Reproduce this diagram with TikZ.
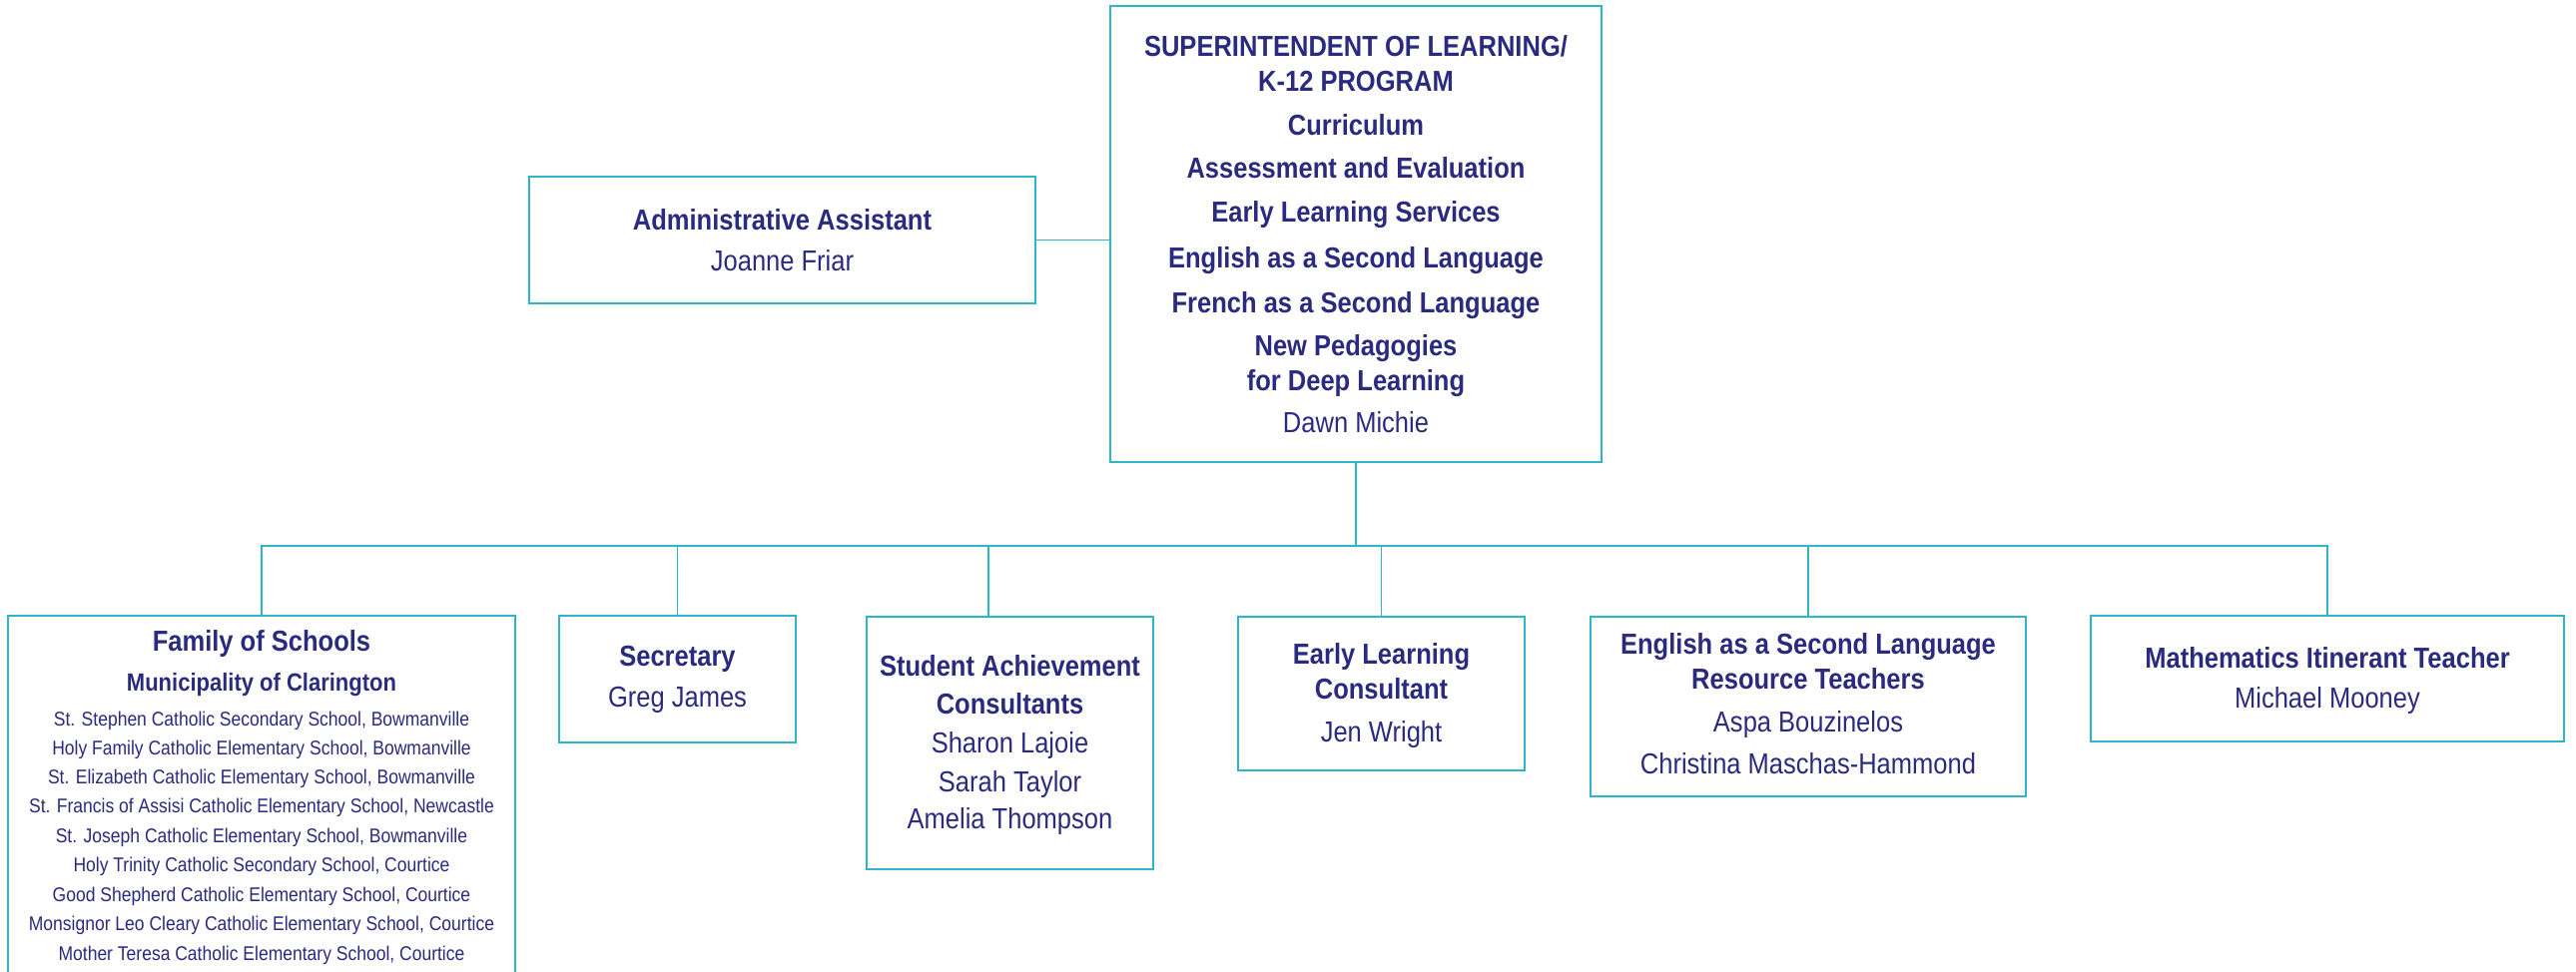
\documentclass[tikz,border=0pt]{standalone}
\usepackage{fontspec}
\setmainfont{Liberation Sans}[FakeStretch=0.88]
\definecolor{txtC}{HTML}{2A2A7E}
\definecolor{lineC}{HTML}{2DB5C8}
\begin{document}
\begin{tikzpicture}[x=1pt,y=-1pt,
  box/.style={draw=lineC, line width=1.6pt, inner sep=0pt},
  hd/.style={text=txtC, font=\bfseries\fontsize{29}{34}\selectfont, anchor=base, inner sep=0pt},
  nm/.style={text=txtC, font=\fontsize{29}{34}\selectfont, anchor=base, inner sep=0pt},
  subhd/.style={text=txtC, font=\bfseries\fontsize{25}{30}\selectfont, anchor=base, inner sep=0pt},
  sch/.style={text=txtC, font=\fontsize{19.9}{24}\selectfont, anchor=base, inner sep=0pt},
  conn/.style={draw=lineC, line width=1.6pt}]
\useasboundingbox (0,0) rectangle (2580,974);

% boxes
\node[box, minimum width=492pt, minimum height=457pt] (top) at (1358,234.5) {};
\node[box, minimum width=507pt, minimum height=127pt] (admin) at (783.5,240.5) {};
\node[box, minimum width=508pt, minimum height=373pt] (fam) at (262,803.5) {};
\node[box, minimum width=237pt, minimum height=127pt] (sec) at (678.5,680.5) {};
\node[box, minimum width=287pt, minimum height=253pt] (stu) at (1011.5,744.5) {};
\node[box, minimum width=287pt, minimum height=154pt] (early) at (1383.5,695) {};
\node[box, minimum width=436pt, minimum height=180pt] (esl) at (1811,708) {};
\node[box, minimum width=474pt, minimum height=126pt] (math) at (2331,680) {};

% connectors
\coordinate (bus) at (1358,547);
\coordinate (stuTop) at (990,618);
\draw[conn] (top.south) -- (bus);
\draw[conn] (fam.north) -- (fam.north |- bus) -- (math.north |- bus) -- (math.north);
\draw[conn] (sec.north) -- (sec.north |- bus);
\draw[conn] (stuTop) -- (stuTop |- bus);
\draw[conn] (early.north) -- (early.north |- bus);
\draw[conn] (esl.north) -- (esl.north |- bus);
\draw[conn] (admin.east) -- (admin.east -| top.west);

% top box text
\node[hd] (t1) at (1358,57) {SUPERINTENDENT OF LEARNING/};
\node[hd] (t2) at (1358,92) {K-12 PROGRAM};
\node[hd] (t3) at (1358,135) {Curriculum};
\node[hd] (t4) at (1358,178) {Assessment and Evaluation};
\node[hd] (t5) at (1358,222) {Early Learning Services};
\node[hd] (t6) at (1358,268) {English as a Second Language};
\node[hd] (t7) at (1358,313) {French as a Second Language};
\node[hd] (t8) at (1358,356) {New Pedagogies};
\node[hd] (t9) at (1358,391) {for Deep Learning};
\node[nm] (t10) at (1358,433) {Dawn Michie};

% admin
\node[hd] (a1) at (783.5,230) {Administrative Assistant};
\node[nm] (a2) at (783.5,271) {Joanne Friar};

% family of schools
\node[hd] (f1) at (262,652) {Family of Schools};
\node[subhd] (f2) at (262,692) {Municipality of Clarington};
\node[sch] (s1) at (262,727) {St. Stephen Catholic Secondary School, Bowmanville};
\node[sch] (s2) at (262,756) {Holy Family Catholic Elementary School, Bowmanville};
\node[sch] (s3) at (262,785) {St. Elizabeth Catholic Elementary School, Bowmanville};
\node[sch] (s4) at (262,814) {St. Francis of Assisi Catholic Elementary School, Newcastle};
\node[sch] (s5) at (262,844) {St. Joseph Catholic Elementary School, Bowmanville};
\node[sch] (s6) at (262,873) {Holy Trinity Catholic Secondary School, Courtice};
\node[sch] (s7) at (262,903) {Good Shepherd Catholic Elementary School, Courtice};
\node[sch] (s8) at (262,932) {Monsignor Leo Cleary Catholic Elementary School, Courtice};
\node[sch] (s9) at (262,962) {Mother Teresa Catholic Elementary School, Courtice};

% secretary
\node[hd] (c1) at (678.5,667) {Secretary};
\node[nm] (c2) at (678.5,708) {Greg James};

% student achievement
\node[hd] (u1) at (1011.5,677) {Student Achievement};
\node[hd] (u2) at (1011.5,715) {Consultants};
\node[nm] (u3) at (1011.5,754) {Sharon Lajoie};
\node[nm] (u4) at (1011.5,793) {Sarah Taylor};
\node[nm] (u5) at (1011.5,830) {Amelia Thompson};

% early learning
\node[hd] (e1) at (1383.5,665) {Early Learning};
\node[hd] (e2) at (1383.5,700) {Consultant};
\node[nm] (e3) at (1383.5,743) {Jen Wright};

% ESL
\node[hd] (l1) at (1811,655) {English as a Second Language};
\node[hd] (l2) at (1811,690) {Resource Teachers};
\node[nm] (l3) at (1811,733) {Aspa Bouzinelos};
\node[nm] (l4) at (1811,775) {Christina Maschas-Hammond};

% math
\node[hd] (m1) at (2331,669) {Mathematics Itinerant Teacher};
\node[nm] (m2) at (2331,709) {Michael Mooney};
\end{tikzpicture}
\end{document}
